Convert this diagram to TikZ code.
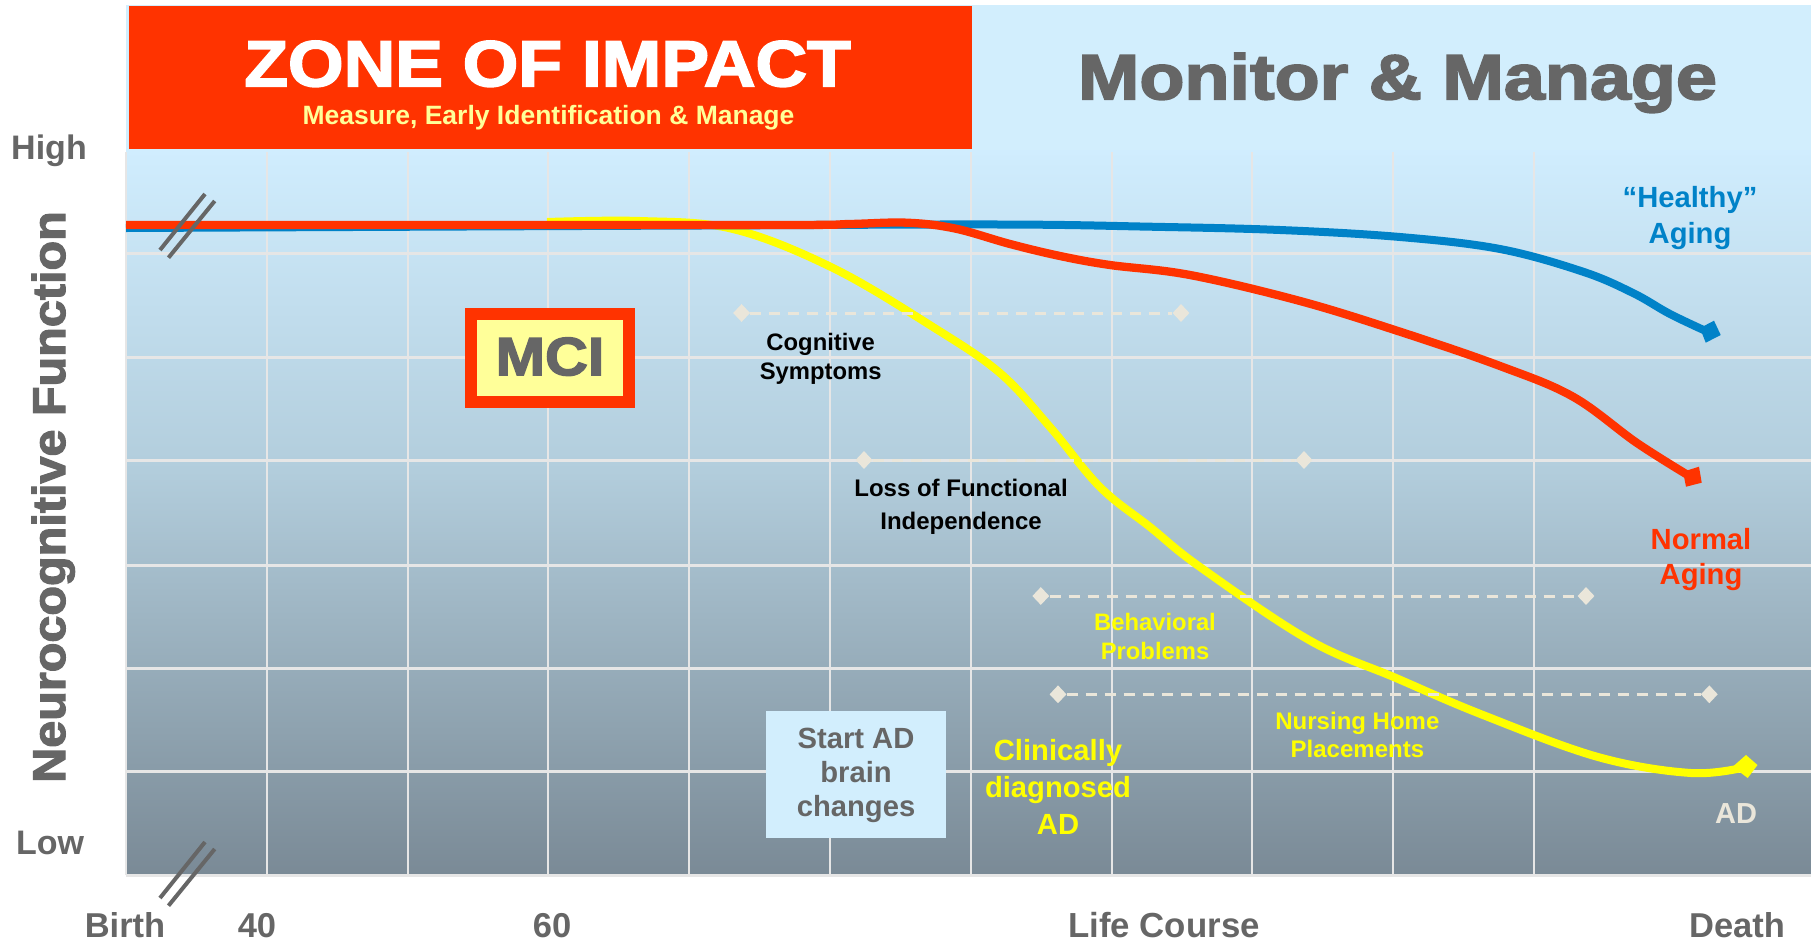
\documentclass[tikz,border=0pt]{standalone}
\usepackage{fontspec}
\usepackage{graphicx}
\setmainfont{Liberation Sans}
\usetikzlibrary{shapes.geometric}
\definecolor{bandblue}{HTML}{D2EEFD}
\definecolor{zonered}{HTML}{FF3300}
\definecolor{paleyellow}{HTML}{FFFF99}
\definecolor{txtgray}{HTML}{666666}
\definecolor{gridc}{HTML}{E6E6E6}
\definecolor{creamc}{HTML}{EAE6DA}
\definecolor{bluec}{HTML}{0082C8}
\definecolor{yellowc}{HTML}{FFFF00}
\definecolor{bgtop}{HTML}{D0EDFE}
\definecolor{bgmid}{HTML}{B2CDDC}
\definecolor{bgbot}{HTML}{7A8A96}
\pgfdeclareverticalshading{plotbg}{100bp}{color(0bp)=(bgbot); color(25bp)=(bgbot); color(52.9bp)=(bgmid); color(75bp)=(bgtop); color(100bp)=(bgtop)}
% \lbl{name}{x}{first baseline y}{size}{leading}{colour}{text}
\newcommand\lbl[7]{\node[lab,text=#6,font=\bfseries\fontsize{#4pt}{#5pt}\selectfont] (#1) at ({#2},{#3-0.7*#5}) {#7};}
\newcommand\hvy[1]{{\addfontfeature{FakeBold=2.5}#1}}
\tikzset{
  lab/.style={anchor=north,inner sep=0pt,align=center},
  gridv/.style={draw=gridc,line width=2pt},
  gridh/.style={draw=gridc,line width=3pt},
  slash/.style={draw=txtgray,line width=4pt},
  curve/.style={line width=8pt,line join=round},
  dm/.style={diamond,fill=creamc,minimum width=17pt,minimum height=18pt,inner sep=0pt},
  dashl/.style={draw=creamc,line width=3pt,dash pattern=on 11pt off 8pt},
}
\begin{document}
\begin{tikzpicture}[x=1pt,y=-1pt]
\useasboundingbox (0,0) rectangle (1811,943);
\fill[white] (0,0) rectangle (1811,943);
% backgrounds
\fill[bandblue] (126,5) rectangle (1811,150);
\shade[shading=plotbg] (126,150) rectangle (1811,875);
% grid
\foreach \i in {0,...,10} \draw[gridv] ({126+140.8*\i},152) -- ({126+140.8*\i},875);
\foreach \yy in {253.7,357.3,460.3,565,668,771.7,875.5} \draw[gridh] (126,\yy) -- (1811,\yy);
% top zone
\fill[zonered] (129,6) rectangle (972,149);
% curves
\draw[curve,yellowc] plot[smooth,tension=0.6] coordinates {(547,222) (640,221) (733,229) (833,268) (933,327) (1000,373) (1050,427) (1100,487) (1150,527) (1200,567) (1309,640) (1396,678) (1483,715) (1598,757) (1691,773) (1746,767)};
\fill[yellowc] (1732.7,766.7) -- (1746,755) -- (1757.5,765) -- (1747.7,778) -- cycle;
\draw[curve,bluec] plot[smooth,tension=0.6] coordinates {(126,228) (700,225.5) (1000,224.5) (1150,226.7) (1280,230) (1400,237) (1500,249) (1583,271.7) (1633,293) (1670,314) (1708,332)};
\fill[bluec] (1700,328) -- (1714,320.7) -- (1720.7,335) -- (1705.7,342.7) -- cycle;
\draw[curve,zonered,line width=8.3pt] plot[smooth,tension=0.6] coordinates {(126,225) (450,225) (790,225) (850,224) (907,222.7) (955,228.5) (1010,244) (1060,256) (1110,265) (1190,275) (1300,301) (1400,331.7) (1500,366) (1573,396.7) (1637,443) (1691,477)};
\fill[zonered] (1683,471.7) -- (1699,466.7) -- (1701.7,482.7) -- (1686,486.7) -- cycle;
% slashes
\draw[slash] (205,194) -- (160,250);
\draw[slash] (214.7,201) -- (168.5,257.7);
\draw[slash] (205,842) -- (160,898);
\draw[slash] (214.7,849) -- (168.5,905.7);
% diamonds and dashed spans
\node[dm] (cogL) at (741.6,313) {};
\node[dm] (cogR) at (1181,313) {};
\node[dm] (lossL) at (864,460) {};
\node[dm] (lossR) at (1304,460) {};
\node[dm] (behL) at (1040.8,596) {};
\node[dm] (behR) at (1586,596) {};
\node[dm] (nurL) at (1058,694.3) {};
\node[dm] (nurR) at (1709.3,694.3) {};
\draw[dashl] (cogL) -- (cogR);
\draw[dashl] (lossL) -- (lossR);
\draw[dashl] (behL) -- (behR);
\draw[dashl] (nurL) -- (nurR);
% boxes
\node[draw=zonered,fill=paleyellow,line width=12pt,minimum width=158pt,minimum height=88pt,inner sep=0pt] (mci) at (550,358) {};
\fill[bandblue] (766,711) rectangle (946,837.7);
% texts
\lbl{zone}{547.5}{86}{65}{65}{white}{\strut\scalebox{1.10}[1]{\hvy{ZONE OF IMPACT}}}
\lbl{sub}{548.5}{124}{26.5}{27}{paleyellow}{\strut Measure, Early Identification \& Manage}
\lbl{mon}{1397.5}{97.5}{64}{64}{txtgray}{\strut\scalebox{1.152}[1]{\hvy{Monitor \& Manage}}}
\lbl{mcit}{550}{375}{54}{54}{txtgray}{\strut\scalebox{1.1}[1]{\hvy{MCI}}}
\lbl{high}{49}{158}{34}{34}{txtgray}{\strut High}
\lbl{low}{50}{854}{34}{34}{txtgray}{\strut Low}
\node[rotate=90,anchor=base,inner sep=0pt,text=txtgray,font=\bfseries\fontsize{46pt}{46pt}\selectfont] (yaxis) at (65,497) {\scalebox{1.055}[1]{\hvy{Neurocognitive Function}}};
\lbl{birth}{125}{937}{34.5}{35}{txtgray}{\strut Birth}
\lbl{forty}{257}{937}{34.5}{35}{txtgray}{\strut 40}
\lbl{sixty}{552}{937}{34.5}{35}{txtgray}{\strut 60}
\lbl{life}{1164}{937}{34.8}{35}{txtgray}{\strut Life Course}
\lbl{death}{1737}{937}{34.5}{35}{txtgray}{\strut Death}
\lbl{cog}{820.7}{350}{23.8}{29}{black}{\strut Cognitive\\\strut Symptoms}
\lbl{loss}{961}{496.5}{24}{33}{black}{\strut Loss of Functional\\\strut Independence}
\lbl{beh}{1155}{630}{23.8}{29}{yellowc}{\strut Behavioral\\\strut Problems}
\lbl{nur}{1357.4}{729}{24}{28}{yellowc}{\strut Nursing Home\\\strut Placements}
\lbl{clin}{1058}{760}{29.2}{37}{yellowc}{\strut Clinically\\\strut diagnosed\\\strut AD}
\lbl{start}{856}{748}{29.2}{34}{txtgray}{\strut Start AD\\\strut brain\\\strut changes}
\lbl{ad}{1736}{823}{29}{30}{creamc}{\strut AD}
\lbl{norm}{1701}{549}{29.2}{35.5}{zonered}{\strut Normal\\\strut Aging}
\lbl{heal}{1690}{207.5}{29.2}{36}{bluec}{\strut “Healthy”\\\strut Aging}
\end{tikzpicture}
\end{document}
